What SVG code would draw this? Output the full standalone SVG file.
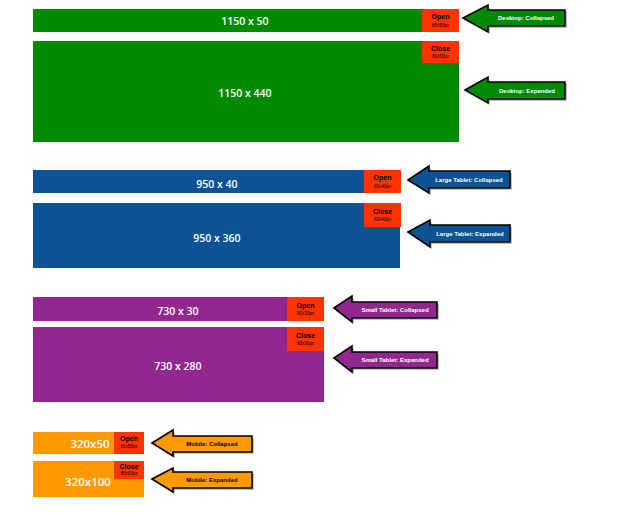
<svg xmlns="http://www.w3.org/2000/svg" width="625" height="527" viewBox="0 0 625 527">
<defs>
<style>
.dim{font-family:"Open Sans","Liberation Sans",sans-serif;font-weight:600;fill:#fff;font-size:10.5px;text-anchor:middle;dominant-baseline:central}
.mob{font-size:11.5px}
.btn{fill:#ff3300}
.bt{font-family:"Liberation Sans",Arial,sans-serif;font-weight:bold;font-size:7px;fill:#000;text-anchor:middle}
.bs{font-family:"Liberation Sans",Arial,sans-serif;font-size:4.5px;fill:#000;text-anchor:middle}
.arr{stroke:#000;stroke-width:1.6;stroke-linejoin:miter}
.al{font-family:"Liberation Sans",Arial,sans-serif;font-weight:bold;font-size:6px;fill:#fff;text-anchor:middle;dominant-baseline:central}
.sh{fill:#888;opacity:0.5}
</style>
</defs>
<g id="bars">
<g id="desktop-collapsed">
<rect x="33" y="9" width="426" height="23" fill="#008a00"/>
<text class="dim" x="245" y="21">1150 x 50</text>
<rect class="btn" x="422" y="9" width="37" height="23"/>
<text class="bt" x="440.5" y="19">Open</text>
<text class="bs" x="440.5" y="27">80x50px</text>
</g>
<g id="desktop-expanded">
<rect x="33" y="41" width="426" height="101" fill="#008a00"/>
<text class="dim" x="245" y="93">1150 x 440</text>
<rect class="btn" x="422" y="41" width="37" height="22"/>
<text class="bt" x="440.5" y="51">Close</text>
<text class="bs" x="440.5" y="58">80x50px</text>
</g>
<g id="large-collapsed">
<rect x="33" y="170" width="367" height="23" fill="#0b5394"/>
<text class="dim" x="217" y="184">950 x 40</text>
<rect class="btn" x="364" y="170" width="37" height="23"/>
<text class="bt" x="382.5" y="180">Open</text>
<text class="bs" x="382.5" y="188">80x40px</text>
</g>
<g id="large-expanded">
<rect x="33" y="203" width="367" height="65" fill="#0b5394"/>
<text class="dim" x="217" y="238">950 x 360</text>
<rect class="btn" x="364" y="203" width="37" height="24"/>
<text class="bt" x="382.5" y="214">Close</text>
<text class="bs" x="382.5" y="221">80x40px</text>
</g>
<g id="small-collapsed">
<rect x="33" y="297" width="291" height="24" fill="#92278f"/>
<text class="dim" x="178" y="311">730 x 30</text>
<rect class="btn" x="287" y="297" width="37" height="24"/>
<text class="bt" x="305.5" y="308">Open</text>
<text class="bs" x="305.5" y="315">80x30px</text>
</g>
<g id="small-expanded">
<rect x="33" y="327" width="291" height="75" fill="#92278f"/>
<text class="dim" x="178" y="366">730 x 280</text>
<rect class="btn" x="287" y="327" width="37" height="24"/>
<text class="bt" x="305.5" y="338">Close</text>
<text class="bs" x="305.5" y="345">80x30px</text>
</g>
<g id="mobile-collapsed">
<rect x="33" y="432" width="111" height="22" fill="#ff9900"/>
<text class="dim mob" x="90" y="443">320x50</text>
<rect class="btn" x="114" y="432" width="30" height="22"/>
<text class="bt" x="129" y="441">Open</text>
<text class="bs" x="129" y="448">80x50px</text>
</g>
<g id="mobile-expanded">
<rect x="33" y="461" width="111" height="36" fill="#ff9900"/>
<text class="dim mob" x="88" y="481">320x100</text>
<rect class="btn" x="114" y="461" width="30" height="18"/>
<text class="bt" x="129" y="468.5">Close</text>
<text class="bs" x="129" y="475">80x50px</text>
</g>
</g>
<g id="connectors">
<g id="arrow-desktop-collapsed">
<polygon class="sh" points="465,20 490,7 490,12 567,12 567,28 490,28 490,34"/>
<polygon class="arr" fill="#008a00" points="463,18 488,5 488,10 565,10 565,26 488,26 488,32"/>
<text class="al" x="526" y="18">Desktop: Collapsed</text>
</g>
<g id="arrow-desktop-expanded">
<polygon class="sh" points="467,92 490,79 490,84 567,84 567,101 490,101 490,105"/>
<polygon class="arr" fill="#008a00" points="465,90 488,77 488,82 565,82 565,99 488,99 488,103"/>
<text class="al" x="527" y="90.5">Desktop: Expanded</text>
</g>
<g id="arrow-large-collapsed">
<polygon class="sh" points="410,182 431,168 431,173 512,173 512,190 431,190 431,195"/>
<polygon class="arr" fill="#0b5394" points="408,180 429,166 429,171 510,171 510,188 429,188 429,193"/>
<text class="al" x="469" y="179.5">Large Tablet: Collapsed</text>
</g>
<g id="arrow-large-expanded">
<polygon class="sh" points="410,234 432,222 432,227 512,227 512,244 432,244 432,249"/>
<polygon class="arr" fill="#0b5394" points="408,232 430,220 430,225 510,225 510,242 430,242 430,247"/>
<text class="al" x="470" y="233.5">Large Tablet: Expanded</text>
</g>
<g id="arrow-small-collapsed">
<polygon class="sh" points="336,310 354,298 354,304 439,304 439,320 354,320 354,324"/>
<polygon class="arr" fill="#92278f" points="334,308 352,296 352,302 437,302 437,318 352,318 352,322"/>
<text class="al" x="395" y="309.5">Small Tablet: Collapsed</text>
</g>
<g id="arrow-small-expanded">
<polygon class="sh" points="336,360 354,348 354,354 439,354 439,370 354,370 354,374"/>
<polygon class="arr" fill="#92278f" points="334,358 352,346 352,352 437,352 437,368 352,368 352,372"/>
<text class="al" x="395" y="359.5">Small Tablet: Expanded</text>
</g>
<g id="arrow-mobile-collapsed">
<polygon class="sh" points="154,445 175,432 175,438 254,438 254,454 175,454 175,458"/>
<polygon class="arr" fill="#ff9900" points="152,443 173,430 173,436 252,436 252,452 173,452 173,456"/>
<text class="al" x="212" y="444" style="fill:#000">Mobile: Collapsed</text>
</g>
<g id="arrow-mobile-expanded">
<polygon class="sh" points="154,481 175,470 175,474 254,474 254,490 175,490 175,494"/>
<polygon class="arr" fill="#ff9900" points="152,479 173,468 173,472 252,472 252,488 173,488 173,492"/>
<text class="al" x="212" y="480" style="fill:#000">Mobile: Expanded</text>
</g>
</g>
</svg>
